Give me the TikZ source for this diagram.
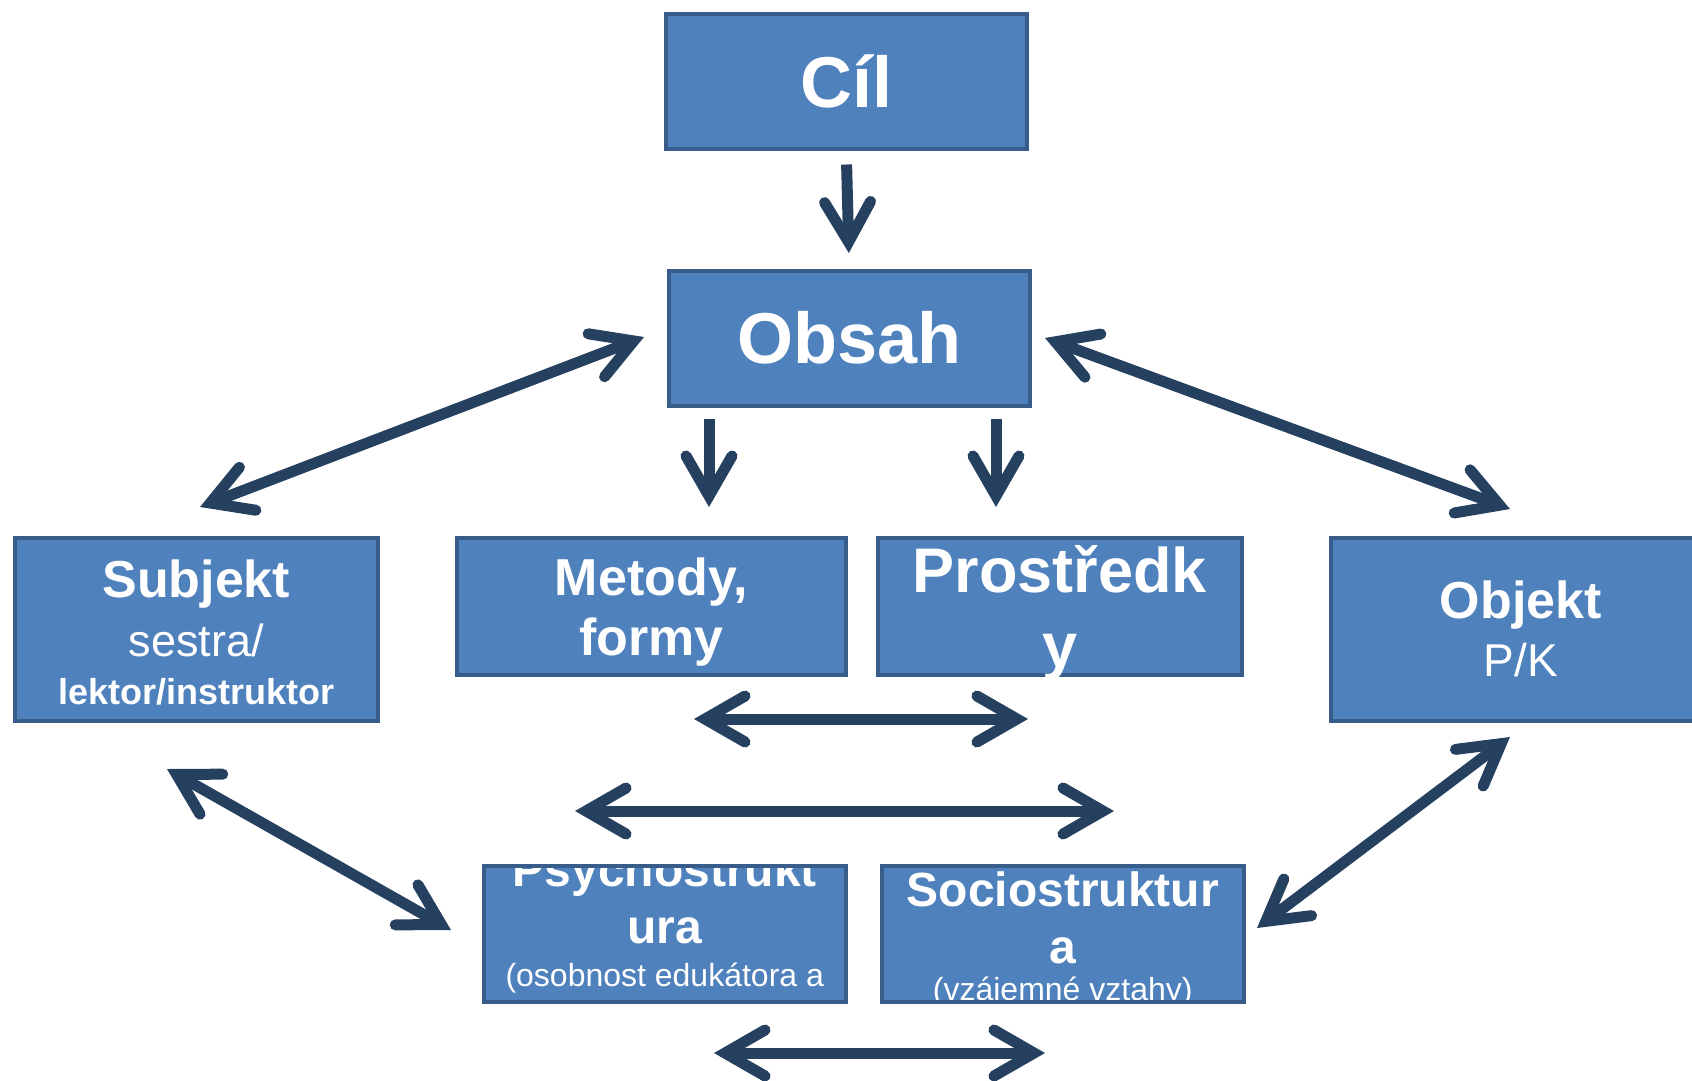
\documentclass[tikz,border=0pt]{standalone}
\usepackage{fontspec}
\setmainfont{Liberation Sans}
\usetikzlibrary{arrows.meta,positioning}
\definecolor{modra}{HTML}{4F81BD}
\definecolor{okraj}{HTML}{385D8A}
\definecolor{tmava}{HTML}{264060}
\tikzstyle{blok} = [rectangle, fill=modra, draw=okraj, line width=3.5pt, text=white, align=center, inner sep=0pt, anchor=north west]
\tikzstyle{hrot} = [tmava, line width=11pt]
\tikzstyle{sipka} = [hrot, -{Straight Barb[length=40pt,width=46pt,line cap=round]}]
\tikzstyle{obe} = [hrot, {Straight Barb[length=40pt,width=46pt,line cap=round]}-{Straight Barb[length=40pt,width=46pt,line cap=round]}]
\newcommand{\hlavni}{\fontsize{72}{86}\selectfont\bfseries}
\newcommand{\nadpis}{\fontsize{52}{60}\selectfont\bfseries}

\begin{document}
\begin{tikzpicture}[x=1pt,y=-1pt]
		\useasboundingbox (0,0) rectangle (1692,1080);

		\node[blok, minimum width=361pt, minimum height=135pt] (cil) at (664,12) {\hlavni Cíl};
		\node[blok, minimum width=361pt, minimum height=135pt] (obsah) at (667,269) {\hlavni Obsah};

		\node[blok, minimum width=363pt, minimum height=183pt, font=\fontsize{36}{48}\selectfont] (subjekt) at (13,536)
		{\rule{0pt}{44pt}{\nadpis Subjekt}\\[11pt]{\fontsize{45}{48}\selectfont sestra/}\\{\bfseries lektor/instruktor}};
		\node[blok, minimum width=389pt, minimum height=137pt, font=\nadpis] (metody) at (455,536)
		{Metody,\\\smash{formy}};
		\node[blok, minimum width=364pt, minimum height=137pt, font=\fontsize{63}{75}\selectfont\bfseries] (prostredky) at (876,536)
		{Prostředk\\\smash{y}};
		\node[blok, minimum width=380pt, minimum height=183pt, font=\fontsize{46}{58}\selectfont] (objekt) at (1329,536)
		{{\nadpis Objekt}\\P/K};

		% spodni bloky, text orezany okrajem
		\node[blok, minimum width=362pt, minimum height=136pt, path picture={
			\node[anchor=north, yshift=16pt, text=white, align=center, font=\fontsize{32}{43}\selectfont]
			at (path picture bounding box.north)
			{{\fontsize{48}{57}\selectfont\bfseries Psychostrukt}\\[14pt]{\fontsize{48}{57}\selectfont\bfseries ura}\\(osobnost edukátora a};}] (psycho) at (482,864) {};
		\node[blok, minimum width=362pt, minimum height=136pt, path picture={
			\node[anchor=north, yshift=-4pt, text=white, align=center, font=\fontsize{32}{37}\selectfont]
			at (path picture bounding box.north)
			{{\fontsize{48}{57}\selectfont\bfseries Sociostruktur}\\[20pt]{\fontsize{48}{57}\selectfont\bfseries a}\\(vzájemné vztahy)};}] (socio) at (880,864) {};

		% konce sipek
		\coordinate (om1) at (709,419);
		\coordinate (om2) at (709,507);
		\coordinate (op1) at (996,419);
		\coordinate (op2) at (996,507);
		\coordinate (so1) at (200,507);
		\coordinate (so2) at (644,337);
		\coordinate (oo1) at (1045,338);
		\coordinate (oo2) at (1510,509);
		\coordinate (mp1) at (694,719);
		\coordinate (mp2) at (1028,719);
		\coordinate (st1) at (575,811);
		\coordinate (st2) at (1114,811);
		\coordinate (sp1) at (167,769);
		\coordinate (sp2) at (451,930);
		\coordinate (os1) at (1510,737);
		\coordinate (os2) at (1257,928);
		\coordinate (ps1) at (714,1053);
		\coordinate (ps2) at (1045,1053);

		\draw[sipka, shorten <=14pt, shorten >=16pt] (cil.south) -- (obsah.north);
		\draw[sipka] (om1) -- (om2);
		\draw[sipka] (op1) -- (op2);
		\draw[obe] (so1) -- (so2);
		\draw[obe] (oo1) -- (oo2);
		\draw[obe] (mp1) -- (mp2);
		\draw[obe] (st1) -- (st2);
		\draw[obe] (sp1) -- (sp2);
		\draw[obe] (os1) -- (os2);
		\draw[obe] (ps1) -- (ps2);
\end{tikzpicture}
\end{document}
